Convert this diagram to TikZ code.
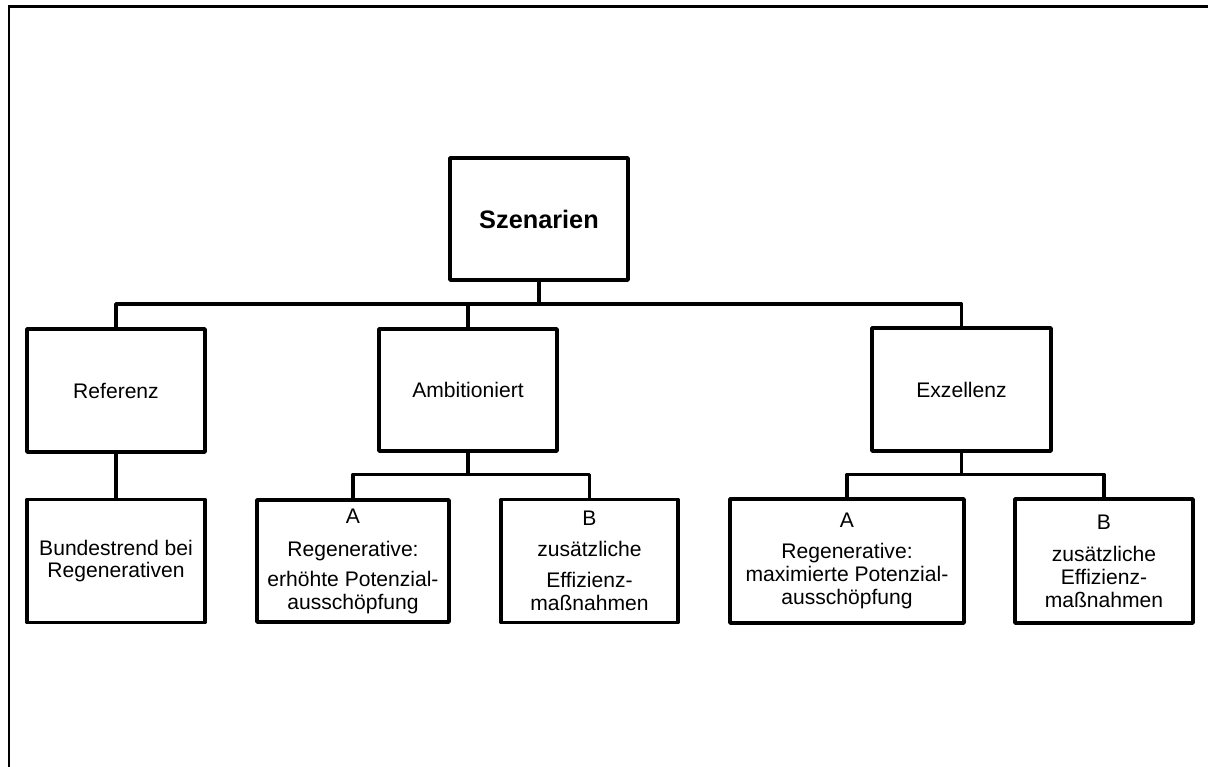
\documentclass[tikz,border=0pt]{standalone}
\usepackage{fontspec}
\setmainfont{Liberation Sans}
\usetikzlibrary{positioning, calc}

\begin{document}
\begin{tikzpicture}[x=0.02cm, y=-0.02cm,
    every node/.style={font=\fontsize{12}{13}\selectfont, align=center},
    box/.style={draw, line width=2.1pt, line join=round, inner sep=0pt, minimum width=3.56cm, minimum height=2.46cm},
    link/.style={line width=2.1pt, line join=round}]
    \useasboundingbox (0,0) rectangle (1208,767);
    \draw[line width=1.5pt] (9,767) -- (9,6.5) -- (1208,6.5);

    % top level
    \node[box, minimum height=2.44cm, font=\fontsize{14.4}{16}\selectfont\bfseries] (szen) at (539,219) {Szenarien};

    % scenarios
    \node[box] (ref) at (116,390.5) {Referenz};
    \node[box, minimum height=2.44cm] (amb) at (468,390) {Ambitioniert};
    \node[box, minimum width=3.58cm] (exz) at (961.5,389.5) {Exzellenz};

    % variants
    \node[box] (bund) at (116,561) {Bundestrend bei\\ Regenerativen};
    \node[box, minimum width=3.84cm, minimum height=2.44cm] (ambA) at (353,561) {A\\[6pt] Regenerative:\\[4pt] erhöhte Potenzial-\\ ausschöpfung};
    \node[box, minimum width=3.54cm] (ambB) at (589.5,561) {B\\[4.5pt] zusätzliche\\[5pt] Effizienz-\\ maßnahmen};
    \node[box, minimum width=4.68cm, minimum height=2.48cm] (exzA) at (847,561) {A\\[4.5pt] Regenerative:\\ maximierte Potenzial-\\ ausschöpfung};
    \node[box, minimum height=2.48cm] (exzB) at (1104,561) {B\\[5.5pt] zusätzliche\\ Effizienz-\\ maßnahmen};

    % connectors
    \coordinate (top bus) at (539,304);
    \draw[link] (szen.south) -- (top bus);
    \draw[link] (ref.north) |- (top bus) -| (exz.north);
    \draw[link] (amb.north) -- (amb.north |- top bus);
    \draw[link] (ref.south) -- (bund.north);

    \coordinate (amb bus) at (468,474.5);
    \draw[link] (amb.south) -- (amb bus);
    \draw[link] (ambA.north) |- (amb bus) -| (ambB.north);

    \coordinate (exz bus) at (961.5,474.5);
    \draw[link] (exz.south) -- (exz bus);
    \draw[link] (exzA.north) |- (exz bus) -| (exzB.north);
\end{tikzpicture}
\end{document}
